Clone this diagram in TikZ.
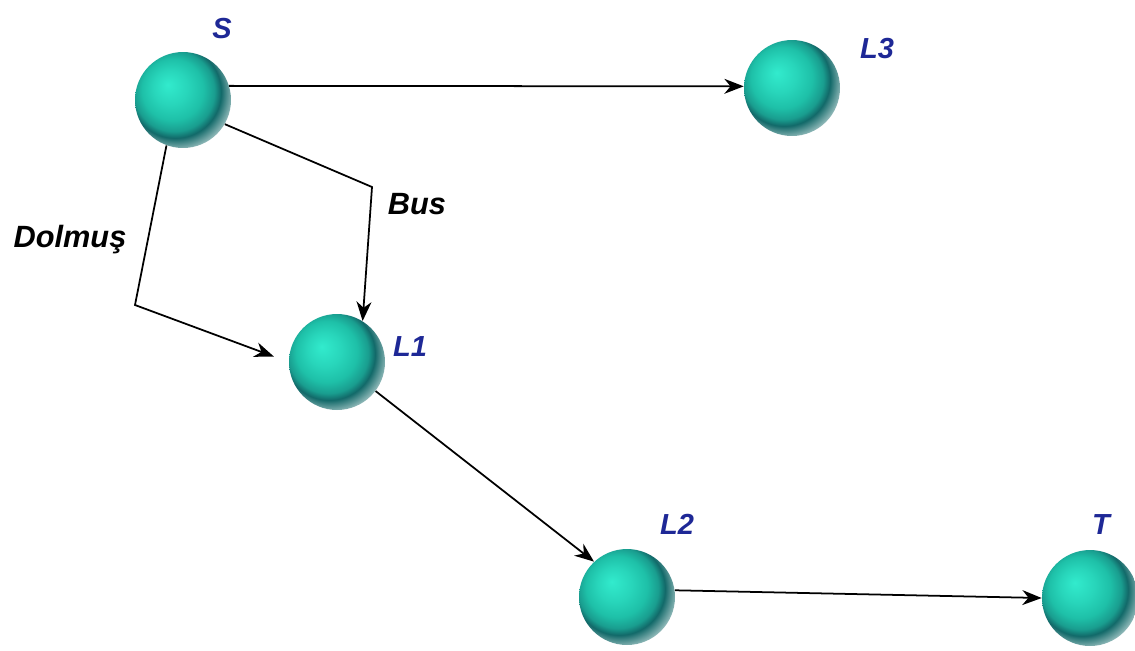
\documentclass[tikz,border=0pt]{standalone}
\usepackage{fontspec}
\setsansfont{Liberation Sans}
\usepackage{xcolor}
\usetikzlibrary{arrows.meta}

\definecolor{orbhi}{RGB}{50,235,205}
\definecolor{orbmid}{RGB}{30,192,168}
\definecolor{orbdark}{RGB}{18,105,105}
\definecolor{lblblue}{RGB}{30,40,150}
\pgfdeclareradialshading{orb}{\pgfpoint{-8bp}{8bp}}{%
  color(0bp)=(orbhi); color(9bp)=(orbhi!50!orbmid); color(16bp)=(orbmid);
  color(21bp)=(orbmid!60!orbdark); color(24bp)=(orbdark); color(27bp)=(orbdark!70!white);
  color(31bp)=(orbdark!30!white); color(50bp)=(white)}

\begin{document}
\begin{tikzpicture}[x=0.02cm, y=-0.02cm,
        orb/.style={circle, shading=orb, minimum size=1.92cm, inner sep=0pt},
        lbl/.style={font=\fontsize{16.5}{19}\selectfont\sffamily\bfseries\itshape, text=lblblue, inner sep=0pt},
        linelbl/.style={font=\fontsize{17.5}{20}\selectfont\sffamily\bfseries\itshape, text=black, inner sep=0pt},
        arr/.style={draw=black, line width=1pt, -{Stealth[length=11pt, width=8.5pt, inset=3.5pt]}}]
      \useasboundingbox (0,0) rectangle (1135,650);
      % Kureler (duraklar)
      \node[orb] (S)  at (183,100) {};
      \node[orb] (L3) at (792,88) {};
      \node[orb] (L1) at (337,362) {};
      \node[orb] (L2) at (627,597) {};
      \node[orb] (T)  at (1090,598) {};
      % Etiketler
      \node[lbl] (S-lbl)  at (222,29) {S};
      \node[lbl] (L3-lbl) at (877,49) {L3};
      \node[lbl] (L1-lbl) at (410,347) {L1};
      \node[lbl] (L2-lbl) at (677,524) {L2};
      \node[lbl] (T-lbl)  at (1101,525) {T};
      % Kirik hatlarin koseleri
      \coordinate (busbend) at (372,187);
      \coordinate (dolbend) at (135,305);
      % Baglantilar
      \draw[arr] (S.17) -- (L3.178);
      \draw[arr] (S.-30) -- (busbend) -- (L1.58);
      \draw[arr, shorten >=9pt] (S.-110) -- (dolbend) -- (L1.west);
      \draw[arr] (L1.-37) -- (L2.133);
      \draw[arr] (L2.8) -- (T.west);
      % Hat etiketleri
      \node[linelbl] (bus-lbl) at (417,204) {Bus};
      \node[linelbl] (dol-lbl) at (70,240) {Dolmuş};
    \end{tikzpicture}
\end{document}
